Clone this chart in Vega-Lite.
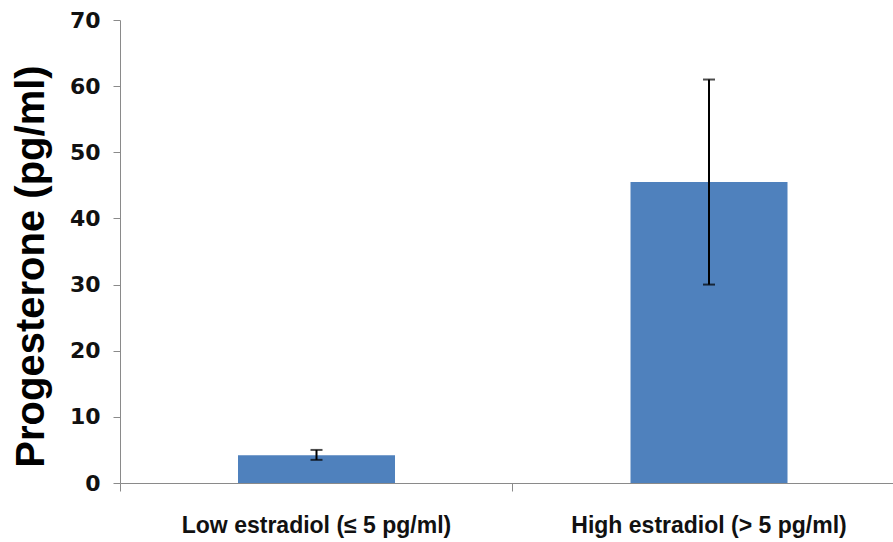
{
  "$schema": "https://vega.github.io/schema/vega-lite/v6.json",
  "autosize": {"type": "none"},
  "padding": {"left": 120, "top": 20, "right": 0, "bottom": 59},
  "width": 773,
  "height": 463,
  "background": "white",
  "config": {"view": {"stroke": null}},
  "data": {
    "values": [
      {"group": "Low estradiol (≤ 5 pg/ml)", "mean": 4.2, "lo": 3.5, "hi": 5.0},
      {"group": "High estradiol (> 5 pg/ml)", "mean": 45.5, "lo": 30.0, "hi": 61.0}
    ]
  },
  "encoding": {
    "x": {
      "field": "group",
      "type": "nominal",
      "sort": null,
      "scale": {"paddingInner": 0.6, "paddingOuter": 0.2847, "align": 0.528},
      "axis": {
        "title": null,
        "labelAngle": 0,
        "bandPosition": -0.75,
        "tickSize": 8,
        "tickColor": "#8a8a8a",
        "domainColor": "#8a8a8a",
        "labelFont": "Liberation Sans",
        "labelFontWeight": "bold",
        "labelFontSize": 23,
        "labelColor": "#111111",
        "labelPadding": 23,
        "labelBaseline": "top",
        "labelLimit": 0
      }
    }
  },
  "layer": [
    {
      "mark": {"type": "bar", "color": "#4F81BD"},
      "encoding": {
        "y": {
          "field": "mean",
          "type": "quantitative",
          "title": "Progesterone (pg/ml)",
          "scale": {"domain": [0, 70], "nice": false},
          "axis": {
            "values": [0, 10, 20, 30, 40, 50, 60, 70],
            "grid": false,
            "tickSize": 7,
            "tickColor": "#8a8a8a",
            "domainColor": "#8a8a8a",
            "labelFont": "DejaVu Sans",
            "labelFontWeight": "bold",
            "labelFontSize": 22,
            "labelColor": "#111111",
            "labelPadding": 13,
            "titleFont": "Liberation Sans",
            "titleFontWeight": "bold",
            "titleFontSize": 40,
            "titleColor": "#000000",
            "titleAngle": -90,
            "titleBaseline": "middle",
            "titleX": -89,
            "titleY": 246
          }
        }
      }
    },
    {
      "mark": {"type": "errorbar", "ticks": {"size": 12}, "thickness": 2, "color": "#000000"},
      "encoding": {
        "y": {"field": "lo", "type": "quantitative", "title": "Progesterone (pg/ml)"},
        "y2": {"field": "hi"}
      }
    }
  ]
}
